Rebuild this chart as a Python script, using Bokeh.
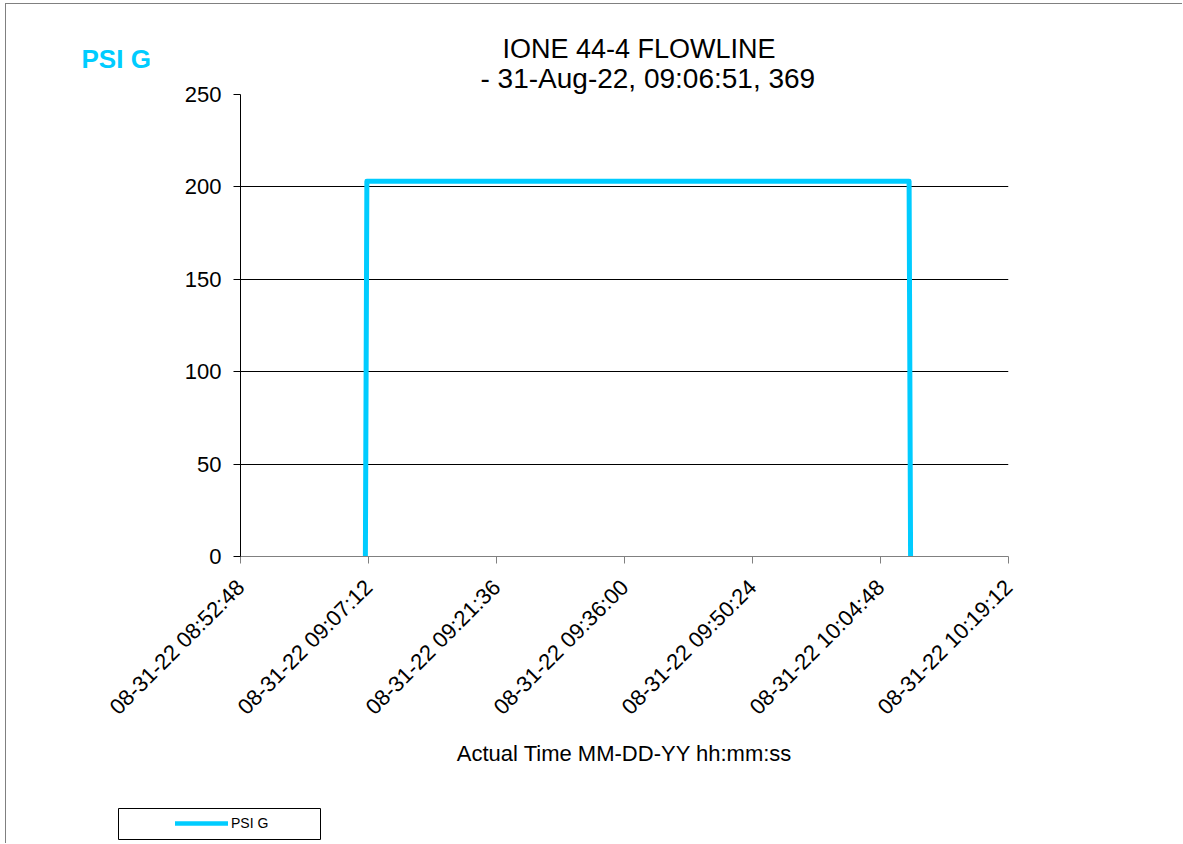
from datetime import datetime
import math
from bokeh.plotting import figure
from bokeh.models import (FixedTicker, DatetimeTickFormatter, Legend, LegendItem, Range1d, Title, Label)
from bokeh.embed import file_html
from bokeh.resources import INLINE

# ---- data ----
time_labels = ["2022-08-31 09:06:51", "2022-08-31 09:07:01", "2022-08-31 10:08:01", "2022-08-31 10:08:11"]
psi_g = [0, 203, 203, 0]
x_tick_labels = ["08-31-22 08:52:48", "08-31-22 09:07:12", "08-31-22 09:21:36", "08-31-22 09:36:00",
                 "08-31-22 09:50:24", "08-31-22 10:04:48", "08-31-22 10:19:12"]
y_ticks = [0, 50, 100, 150, 200, 250]
grid_ticks = [50, 100, 150, 200]
title_lines = ["IONE 44-4 FLOWLINE", "- 31-Aug-22, 09:06:51, 369"]
series_name = "PSI G"
x_axis_title = "Actual Time MM-DD-YY hh:mm:ss"

FONT = "Liberation Sans"
CYAN = "#00CCFF"

times = [datetime.strptime(t, "%Y-%m-%d %H:%M:%S") for t in time_labels]
tick_dts = [datetime.strptime(t, "%m-%d-%y %H:%M:%S") for t in x_tick_labels]
epoch = datetime(1970, 1, 1)
tick_ms = [(d - epoch).total_seconds() * 1000 for d in tick_dts]

# ---------------- main chart ----------------
p = figure(width=1177, height=840, x_axis_type="datetime",
           x_range=Range1d(tick_dts[0], tick_dts[-1]), y_range=Range1d(y_ticks[0], y_ticks[-1]),
           output_backend="svg", toolbar_location=None, title=title_lines[0],
           min_border_left=234, min_border_top=90, min_border_right=175, min_border_bottom=288,
           styles={"position": "absolute", "left": "5px", "top": "3px",
                   "border-top": "1px solid #808080", "border-left": "1px solid #808080"})
p.outline_line_color = None
p.background_fill_color = "white"
p.border_fill_color = "white"

# title line 1 (outermost) and line 2 (next to the plot area)
p.title.align = "left"
p.title.offset = 262
p.title.standoff = -6
p.title.text_font = FONT
p.title.text_font_size = "27px"
p.title.text_font_style = "normal"
p.title.text_color = "black"
p.add_layout(Title(text=title_lines[1], align="left", offset=240, standoff=1, text_font=FONT,
                   text_font_size="28px", text_font_style="normal", text_color="black"), "above")

r = p.line(x=times, y=psi_g, line_color=CYAN, line_width=5, line_join="round")

fmt = "%m-%d-%y %H:%M:%S"
p.xaxis.ticker = FixedTicker(ticks=tick_ms)
p.xaxis.formatter = DatetimeTickFormatter(milliseconds=fmt, seconds=fmt, minsec=fmt, minutes=fmt,
                                          hourmin=fmt, hours=fmt, days=fmt, months=fmt, years=fmt)
p.xaxis.major_label_orientation = math.pi / 4
p.xaxis.axis_line_color = "#808080"
p.xaxis.major_tick_line_color = "#808080"
p.xaxis.major_tick_out = 7
p.xaxis.major_tick_in = 0
p.xaxis.minor_tick_line_color = None
p.xaxis.major_label_text_font = FONT
p.xaxis.major_label_text_font_size = "22px"
p.xaxis.major_label_text_color = "black"
p.xaxis.major_label_standoff = 20
p.xaxis.axis_label = x_axis_title
p.xaxis.axis_label_text_font = FONT
p.xaxis.axis_label_text_font_size = "22px"
p.xaxis.axis_label_text_font_style = "normal"
p.xaxis.axis_label_text_color = "black"
p.xaxis.axis_label_standoff = 10

p.yaxis.ticker = FixedTicker(ticks=y_ticks)
p.yaxis.axis_line_color = "black"
p.yaxis.major_tick_line_color = "black"
p.yaxis.major_tick_out = 7
p.yaxis.major_tick_in = 0
p.yaxis.minor_tick_line_color = None
p.yaxis.major_label_text_font = FONT
p.yaxis.major_label_text_font_size = "22px"
p.yaxis.major_label_text_color = "black"
p.yaxis.major_label_standoff = 12

p.xgrid.grid_line_color = None
p.ygrid.ticker = FixedTicker(ticks=grid_ticks)
p.ygrid.grid_line_color = "black"
p.ygrid.grid_line_width = 1

# ---------------- "PSI G" unit caption (top left) ----------------
p_unit = figure(width=100, height=50, output_backend="svg", toolbar_location=None, title=None,
                x_axis_location=None, y_axis_location=None, min_border=0,
                x_range=Range1d(0, 1), y_range=Range1d(0, 1),
                styles={"position": "absolute", "left": "81px", "top": "33px"})
p_unit.outline_line_color = None
p_unit.grid.visible = False
p_unit.background_fill_alpha = 0
p_unit.border_fill_alpha = 0
p_unit.add_layout(Label(x=0, y=0.5, text=series_name,
                        text_align="left", text_baseline="middle", text_font=FONT,
                        text_font_size="26px", text_font_style="bold", text_color=CYAN))

# ---------------- legend box (bottom left) ----------------
p_leg = figure(width=204, height=33, output_backend="svg", toolbar_location=None, title=None,
               x_axis_location=None, y_axis_location=None, min_border=1,
               x_range=Range1d(0, 1), y_range=Range1d(0, 1),
               styles={"position": "absolute", "left": "117px", "top": "807px"})
p_leg.outline_line_color = "black"
p_leg.outline_line_width = 1
p_leg.grid.visible = False
p_leg.background_fill_color = "white"
# same series; it lies outside this small panel's ranges, only its legend glyph is shown
r_leg = p_leg.line(x=times, y=psi_g, line_color=CYAN, line_width=4.5, line_cap="round")
legend = Legend(items=[LegendItem(label=series_name, renderers=[r_leg])], location=(57, 8),
                border_line_alpha=0, background_fill_alpha=0, padding=0, margin=0, spacing=0,
                glyph_width=53, glyph_height=14, label_height=14, label_standoff=3,
                label_text_font=FONT, label_text_font_size="14px", label_text_color="black")
p_leg.add_layout(legend, "center")

open("out.html", "w").write(file_html([p, p_unit, p_leg], INLINE))
